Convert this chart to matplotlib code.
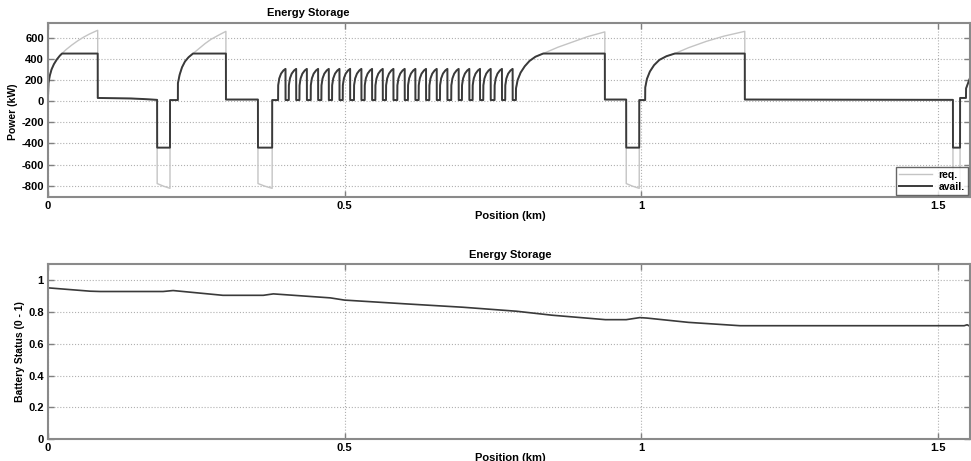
import numpy as np
import matplotlib
matplotlib.use("Agg")
import matplotlib.pyplot as plt

plt.rcParams['font.family'] = ['Liberation Sans', 'DejaVu Sans']
plt.rcParams['font.weight'] = 'bold'
plt.rcParams['axes.unicode_minus'] = False

# power requested (kW) vs position (km)
accel1_x = [0.0, 0.0008, 0.003, 0.006, 0.010, 0.015, 0.020, 0.0236, 0.030, 0.040, 0.050, 0.060, 0.070, 0.0838]
accel1_y = [40, 170, 240, 300, 350, 395, 430, 450, 485, 530, 570, 605, 635, 670]
brake1_x = [0.0839, 0.140, 0.160, 0.184, 0.1841, 0.195, 0.2057, 0.2058, 0.219]
brake1_y = [30, 25, 20, 12, -780, -805, -825, 10, 10]

accel2_x = [0.2191, 0.222, 0.226, 0.231, 0.237, 0.2445, 0.255, 0.265, 0.275, 0.288, 0.300]
accel2_y = [170, 250, 320, 375, 415, 450, 500, 545, 585, 625, 660]
brake2_x = [0.3001, 0.354, 0.3541, 0.366, 0.378, 0.3781, 0.388]
brake2_y = [15, 15, -780, -805, -825, 10, 10]

# short pulses between 0.39 and 0.79 km
spike_starts = [0.388, 0.406, 0.424, 0.443, 0.461, 0.479, 0.497, 0.516, 0.534, 0.552, 0.570,
                0.589, 0.607, 0.625, 0.643, 0.661, 0.680, 0.698, 0.716, 0.734, 0.753, 0.771]
spike_dx = [0.0, 0.0002, 0.002, 0.005, 0.009, 0.0125, 0.0126]
spike_y = [10, 150, 215, 260, 290, 305, 10]

accel3_x = [0.789, 0.7892, 0.792, 0.797, 0.804, 0.812, 0.822, 0.835, 0.860, 0.885, 0.910, 0.939]
accel3_y = [10, 120, 200, 270, 330, 380, 420, 450, 510, 560, 610, 655]
brake3_x = [0.9391, 0.975, 0.9751, 0.986, 0.997, 0.9971, 1.007]
brake3_y = [15, 15, -780, -805, -825, 10, 10]

accel4_x = [1.0072, 1.010, 1.015, 1.022, 1.031, 1.043, 1.057, 1.080, 1.110, 1.140, 1.175]
accel4_y = [130, 210, 280, 340, 390, 425, 450, 505, 565, 615, 660]
brake4_x = [1.1751, 1.526, 1.5261, 1.538, 1.5381, 1.548, 1.5482, 1.5548]
brake4_y = [15, 12, -780, -800, 30, 30, 120, 220]

avail_max = 450
avail_min = -440

# battery state of charge
soc_x = [0.0, 0.071, 0.088, 0.194, 0.211, 0.295, 0.363, 0.380, 0.476, 0.5, 0.6, 0.7, 0.79,
         0.85, 0.94, 0.975, 0.998, 1.01, 1.08, 1.167, 1.545, 1.55, 1.5548]
soc_y = [0.952, 0.931, 0.929, 0.929, 0.935, 0.905, 0.905, 0.914, 0.889, 0.875, 0.852, 0.830, 0.805,
         0.780, 0.752, 0.752, 0.765, 0.762, 0.735, 0.714, 0.714, 0.720, 0.710]

sx, sy = [], []
for s in spike_starts:
    sx += [s + d for d in spike_dx]
    sy += spike_y

req_x = np.array(accel1_x + brake1_x + accel2_x + brake2_x + sx + accel3_x + brake3_x + accel4_x + brake4_x)
req_y = np.array(accel1_y + brake1_y + accel2_y + brake2_y + sy + accel3_y + brake3_y + accel4_y + brake4_y)
avail_y = np.clip(req_y, avail_min, avail_max)

W, H = 971, 461
fig = plt.figure(figsize=(W / 100, H / 100), dpi=100)
ax1 = fig.add_axes([48 / W, 1 - 197 / H, 922 / W, 174 / H])
ax2 = fig.add_axes([48 / W, 1 - 439.3 / H, 922 / W, 175 / H])

xmax = 1.5548
ax1.plot(req_x, req_y, color='#c4c4c4', lw=1.0, label='req.')
ax1.plot(req_x, avail_y, color='#3a3a3a', lw=1.4, label='avail.')
ax1.set_xlim(0, xmax)
ax1.set_ylim(-907, 739)
ax1.set_yticks([-800, -600, -400, -200, 0, 200, 400, 600])
leg = ax1.legend(loc='lower right', bbox_to_anchor=(1.0, 0.0), fontsize=7.5, frameon=True,
                 fancybox=False, borderaxespad=0.2, handlelength=3.2, borderpad=0.3,
                 labelspacing=0.2, handletextpad=0.6)
leg.get_frame().set_edgecolor('#404040')
leg.get_frame().set_linewidth(1.0)

ax2.plot(soc_x, soc_y, color='#3a3a3a', lw=1.2)
ax2.set_xlim(0, xmax)
ax2.set_ylim(0, 1.1)
ax2.set_yticks([0, 0.2, 0.4, 0.6, 0.8, 1])
ax2.set_yticklabels(['0', '0.2', '0.4', '0.6', '0.8', '1'])

for ax in (ax1, ax2):
    ax.set_xticks([0, 0.5, 1, 1.5])
    ax.set_xticklabels(['0', '0.5', '1', '1.5'])
    ax.grid(True, color='#b0b0b0', linestyle=':', linewidth=0.8)
    ax.tick_params(direction='in', top=True, right=True, length=4, width=1,
                   color='#808080', labelsize=8, pad=3)
    for sp in ax.spines.values():
        sp.set_color('#8a8a8a')
        sp.set_linewidth(1.5)
    for lab in ax.get_xticklabels() + ax.get_yticklabels():
        lab.set_fontweight('bold')

fig.text(308 / W, 1 - 16 / H, 'Energy Storage', ha='center', va='baseline', fontsize=8, fontweight='bold')
fig.text(510 / W, 1 - 219 / H, 'Position (km)', ha='center', va='baseline', fontsize=8, fontweight='bold')
fig.text(510 / W, 1 - 258 / H, 'Energy Storage', ha='center', va='baseline', fontsize=8, fontweight='bold')
fig.text(510 / W, 1 - 460.5 / H, 'Position (km)', ha='center', va='baseline', fontsize=8, fontweight='bold')
fig.text(12.5 / W, 1 - 112 / H, 'Power (kW)', ha='center', va='center', rotation=90, fontsize=7.5, fontweight='bold')
fig.text(20 / W, 1 - 352 / H, 'Battery Status (0 - 1)', ha='center', va='center', rotation=90, fontsize=7.5, fontweight='bold')

fig.savefig('out.png', dpi=100)
